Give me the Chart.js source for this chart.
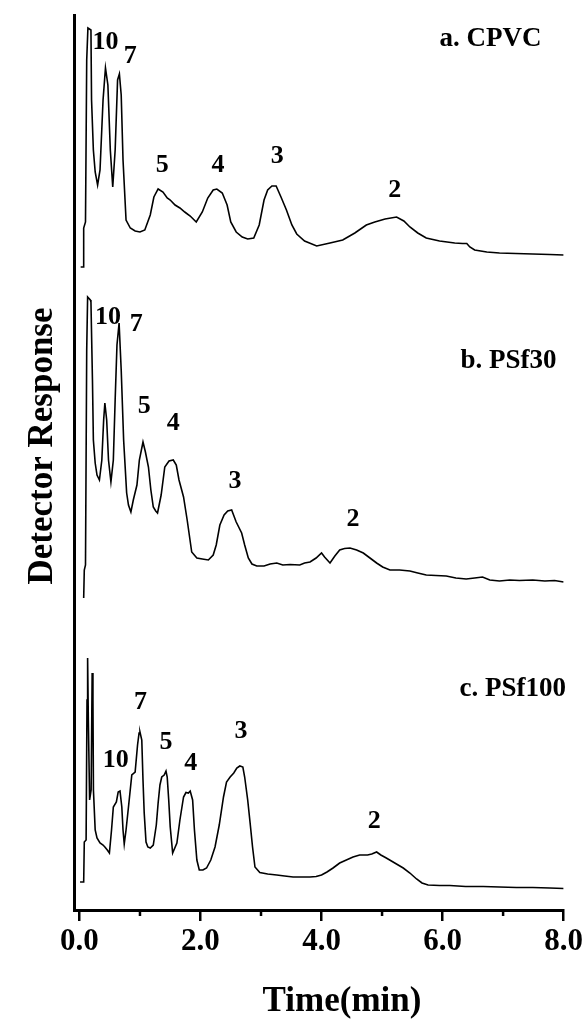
<!DOCTYPE html>
<html>
<head>
<meta charset="utf-8">
<script src="https://cdn.jsdelivr.net/npm/chart.js@4.4.1/dist/chart.umd.min.js"></script>
<style>
  html, body { margin: 0; padding: 0; background: #fff; }
  #wrap { width: 585px; height: 1025px; }
</style>
</head>
<body>
<div id="wrap"><canvas id="gpc" width="585" height="1025"></canvas></div>
<script>
// retention time (min) and detector response, one pair of arrays per sample
const timeA = [0.02, 0.06, 0.07, 0.10, 0.12, 0.14, 0.19, 0.20, 0.23, 0.26,
  0.30, 0.34, 0.39, 0.43, 0.47, 0.51, 0.55, 0.59, 0.63, 0.66,
  0.69, 0.72, 0.77, 0.84, 0.92, 1.00, 1.08, 1.17, 1.23, 1.30,
  1.38, 1.45, 1.50, 1.58, 1.66, 1.74, 1.83, 1.93, 2.03, 2.12,
  2.21, 2.27, 2.36, 2.44, 2.50, 2.59, 2.69, 2.78, 2.88, 2.97,
  3.05, 3.11, 3.18, 3.25, 3.33, 3.42, 3.51, 3.59, 3.72, 3.92,
  4.14, 4.35, 4.55, 4.74, 4.88, 5.05, 5.24, 5.36, 5.46, 5.59,
  5.73, 5.95, 6.20, 6.33, 6.40, 6.45, 6.53, 6.73, 6.94, 7.21,
  7.49, 7.77, 8.00];
const respA = [0.3, 0.3, 4.2, 4.8, 21.0, 24.2, 24.0, 17.0, 12.0, 9.8,
  8.5, 10.0, 17.0, 20.2, 18.5, 12.0, 8.3, 12.0, 19.0, 19.6,
  17.5, 11.0, 5.0, 4.2, 3.9, 3.8, 4.0, 5.5, 7.3, 8.1,
  7.8, 7.2, 7.0, 6.5, 6.2, 5.8, 5.4, 4.8, 5.8, 7.2,
  8.0, 8.1, 7.7, 6.5, 4.8, 3.8, 3.3, 3.1, 3.2, 4.5,
  7.0, 8.0, 8.4, 8.4, 7.3, 6.0, 4.5, 3.6, 2.9, 2.4,
  2.7, 3.0, 3.7, 4.5, 4.8, 5.1, 5.3, 4.9, 4.3, 3.7,
  3.2, 2.9, 2.7, 2.65, 2.65, 2.3, 2.0, 1.8, 1.7, 1.65,
  1.6, 1.55, 1.5];

const timeB = [0.07, 0.08, 0.10, 0.12, 0.135, 0.18, 0.19, 0.215, 0.23, 0.26,
  0.29, 0.33, 0.37, 0.40, 0.42, 0.45, 0.48, 0.52, 0.56, 0.59,
  0.62, 0.655, 0.69, 0.73, 0.78, 0.81, 0.85, 0.89, 0.95, 0.99,
  1.05, 1.09, 1.14, 1.18, 1.22, 1.26, 1.29, 1.35, 1.41, 1.48,
  1.55, 1.60, 1.645, 1.72, 1.78, 1.855, 1.94, 2.03, 2.13, 2.21,
  2.26, 2.32, 2.39, 2.45, 2.515, 2.59, 2.68, 2.73, 2.79, 2.85,
  2.93, 3.05, 3.15, 3.26, 3.36, 3.48, 3.64, 3.72, 3.81, 3.91,
  4.00, 4.05, 4.14, 4.22, 4.30, 4.38, 4.47, 4.58, 4.69, 4.80,
  4.91, 5.01, 5.13, 5.29, 5.46, 5.59, 5.73, 5.89, 6.06, 6.22,
  6.39, 6.53, 6.66, 6.78, 6.94, 7.11, 7.27, 7.49, 7.69, 7.85,
  8.00];
const respB = [0.2, 3.0, 3.5, 25.0, 30.3, 30.0, 29.8, 22.0, 16.0, 13.7,
  12.5, 12.0, 14.0, 18.0, 19.7, 18.0, 14.0, 11.8, 14.0, 20.0,
  25.5, 27.7, 23.0, 16.0, 10.7, 9.5, 8.8, 10.0, 11.5, 14.0,
  15.8, 14.8, 13.3, 11.0, 9.3, 8.9, 8.7, 10.5, 13.3, 13.9,
  14.0, 13.5, 12.0, 10.3, 8.0, 4.8, 4.2, 4.1, 4.0, 4.5,
  5.5, 7.5, 8.5, 8.9, 9.0, 7.8, 6.7, 5.5, 4.2, 3.6,
  3.4, 3.4, 3.6, 3.7, 3.5, 3.55, 3.5, 3.7, 3.8, 4.2,
  4.7, 4.3, 3.7, 4.4, 5.0, 5.15, 5.2, 5.0, 4.7, 4.2,
  3.7, 3.3, 3.0, 3.0, 2.9, 2.7, 2.5, 2.45, 2.4, 2.2,
  2.1, 2.2, 2.3, 2.0, 1.9, 2.0, 1.95, 2.0, 1.9, 1.95,
  1.8];

const timeC = [0.01, 0.07, 0.08, 0.11, 0.125, 0.135, 0.147, 0.168, 0.193, 0.21,
  0.223, 0.231, 0.26, 0.29, 0.34, 0.39, 0.42, 0.46, 0.495, 0.53,
  0.56, 0.61, 0.64, 0.67, 0.70, 0.72, 0.74, 0.77, 0.81, 0.865,
  0.92, 0.96, 0.985, 1.00, 1.03, 1.05, 1.07, 1.10, 1.13, 1.17,
  1.22, 1.27, 1.30, 1.33, 1.36, 1.40, 1.43, 1.45, 1.475, 1.50,
  1.54, 1.61, 1.66, 1.72, 1.76, 1.80, 1.83, 1.87, 1.90, 1.94,
  1.98, 2.04, 2.10, 2.17, 2.24, 2.31, 2.38, 2.43, 2.49, 2.55,
  2.60, 2.65, 2.70, 2.73, 2.78, 2.82, 2.86, 2.90, 2.98, 3.11,
  3.26, 3.39, 3.53, 3.64, 3.81, 3.91, 4.00, 4.09, 4.19, 4.30,
  4.41, 4.52, 4.63, 4.76, 4.83, 4.91, 4.98, 5.07, 5.21, 5.35,
  5.46, 5.57, 5.66, 5.76, 5.95, 6.12, 6.38, 6.67, 6.94, 7.22,
  7.49, 7.77, 8.00];
const respC = [0.8, 0.8, 4.8, 5.0, 19.0, 23.2, 17.0, 9.0, 10.0, 21.7,
  19.0, 10.0, 6.0, 5.2, 4.7, 4.5, 4.3, 4.0, 3.7, 6.0,
  8.3, 8.8, 9.8, 9.9, 8.3, 6.0, 4.6, 6.0, 8.3, 11.5,
  11.8, 14.5, 15.7, 15.8, 15.0, 11.0, 7.7, 4.8, 4.3, 4.2,
  4.5, 6.5, 8.7, 10.5, 11.3, 11.5, 11.9, 11.3, 9.0, 6.3,
  3.7, 4.7, 7.0, 9.3, 9.75, 9.7, 9.9, 9.0, 6.0, 3.0,
  2.0, 2.0, 2.2, 3.0, 4.3, 6.5, 9.3, 10.8, 11.3, 11.7,
  12.2, 12.4, 12.3, 11.3, 9.0, 6.7, 4.3, 2.3, 1.75, 1.6,
  1.5, 1.4, 1.3, 1.3, 1.3, 1.35, 1.5, 1.8, 2.2, 2.7,
  3.0, 3.3, 3.5, 3.5, 3.6, 3.8, 3.5, 3.2, 2.7, 2.2,
  1.7, 1.1, 0.7, 0.5, 0.45, 0.45, 0.35, 0.35, 0.3, 0.25,
  0.25, 0.2, 0.15];

// vertical offsets that stack the three chromatograms
const baseA = 64, baseB = 31, baseC = 2;

const sampleNames = ['a. CPVC', 'b. PSf30', 'c. PSf100'];
const peakNames = ['10', '7', '5', '4', '3', '2'];

// where the annotations sit, in (time, stacked response)
const peakTimeA = [0.43, 0.84, 1.37, 2.29, 3.27, 5.21];
const peakLevelA = [86.75, 85.4, 74.5, 74.5, 75.4, 72.0];
const peakTimeB = [0.47, 0.94, 1.07, 1.55, 2.57, 4.52];
const peakLevelB = [59.3, 58.6, 50.4, 48.7, 42.9, 39.1];
const peakTimeC = [0.60, 1.01, 1.43, 1.84, 2.67, 4.87];
const peakLevelC = [15.0, 20.8, 16.8, 14.7, 17.9, 8.85];
const nameTime = [6.79, 7.09, 7.16];
const nameLevel = [87.1, 54.9, 22.1];

const xTicks = [0, 2, 4, 6, 8];
const xMinor = [1, 3, 5, 7];

const serif = '"Liberation Serif", "Times New Roman", serif';

function trace(times, resp, base) {
  return {
    data: times.map((t, i) => ({ x: t, y: resp[i] + base })),
    borderColor: '#000',
    borderWidth: 1.6,
    pointRadius: 0,
    tension: 0,
    fill: false
  };
}

const decor = {
  id: 'decor',
  afterDraw(chart) {
    const { ctx, scales: { x, y } } = chart;
    ctx.save();
    ctx.strokeStyle = '#000';
    ctx.lineWidth = 2.5;
    xMinor.forEach(v => {
      const px = x.getPixelForValue(v);
      ctx.beginPath();
      ctx.moveTo(px, x.top);
      ctx.lineTo(px, x.top + 6);
      ctx.stroke();
    });

    ctx.fillStyle = '#000';
    ctx.textAlign = 'center';
    ctx.textBaseline = 'middle';
    ctx.font = 'bold 26px ' + serif;
    [[peakTimeA, peakLevelA], [peakTimeB, peakLevelB], [peakTimeC, peakLevelC]].forEach(([ts, ls]) => {
      ts.forEach((t, i) => {
        ctx.fillText(peakNames[i], x.getPixelForValue(t), y.getPixelForValue(ls[i]));
      });
    });
    ctx.font = 'bold 27px ' + serif;
    sampleNames.forEach((n, i) => {
      ctx.fillText(n, x.getPixelForValue(nameTime[i]), y.getPixelForValue(nameLevel[i]));
    });

    // axis titles
    ctx.font = 'bold 35px ' + serif;
    ctx.fillText('Time(min)', 342, 1002);
    ctx.translate(42.5, 446);
    ctx.rotate(-Math.PI / 2);
    ctx.fillText('Detector Response', 0, 0);
    ctx.restore();
  }
};

new Chart(document.getElementById('gpc'), {
  type: 'line',
  data: {
    datasets: [
      trace(timeA, respA, baseA),
      trace(timeB, respB, baseB),
      trace(timeC, respC, baseC)
    ]
  },
  options: {
    responsive: false,
    animation: false,
    layout: { padding: { top: 15, right: 21, left: 0, bottom: 0 } },
    plugins: { legend: { display: false }, tooltip: { enabled: false } },
    scales: {
      x: {
        type: 'linear',
        min: -0.09,
        max: 8,
        afterBuildTicks: s => { s.ticks = xTicks.map(v => ({ value: v })); },
        afterFit: s => { s.height = 115; },
        ticks: {
          padding: 2,
          color: '#000',
          maxRotation: 0,
          autoSkip: false,
          font: { family: serif, size: 31, weight: 'bold' },
          callback: v => Number(v).toFixed(1)
        },
        grid: {
          display: true,
          drawOnChartArea: false,
          drawTicks: true,
          tickLength: 11,
          tickWidth: 2.5,
          lineWidth: 2.5,
          tickColor: '#000',
          color: '#000'
        },
        border: { display: true, width: 3, color: '#000' }
      },
      y: {
        min: 0,
        max: 89.5,
        afterFit: s => { s.width = 74; },
        ticks: { display: false },
        grid: { display: false },
        border: { display: true, width: 3, color: '#000' }
      }
    }
  },
  plugins: [decor]
});
</script>
</body>
</html>
